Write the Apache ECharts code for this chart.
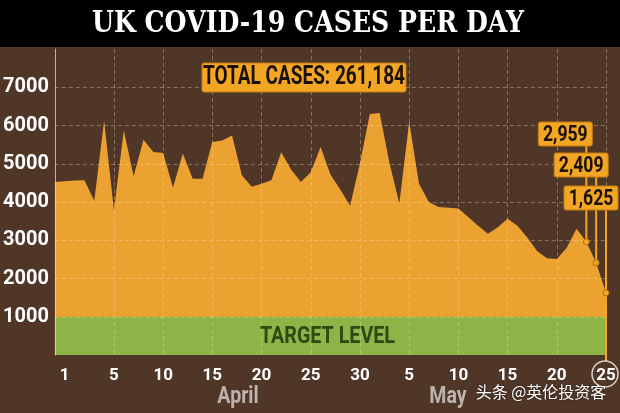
<!DOCTYPE html>
<html><head><meta charset="utf-8">
<script src="https://cdn.jsdelivr.net/npm/echarts@6/dist/echarts.min.js"></script>
<style>html,body{margin:0;padding:0;background:#4f3627}#c{width:620px;height:413px}</style>
</head><body><div id="c"></div>
<script>
// ---- data ----
const categories = ['Mar 30','Mar 31',
 'Apr 1','Apr 2','Apr 3','Apr 4','Apr 5','Apr 6','Apr 7','Apr 8','Apr 9','Apr 10',
 'Apr 11','Apr 12','Apr 13','Apr 14','Apr 15','Apr 16','Apr 17','Apr 18','Apr 19','Apr 20',
 'Apr 21','Apr 22','Apr 23','Apr 24','Apr 25','Apr 26','Apr 27','Apr 28','Apr 29','Apr 30',
 'May 1','May 2','May 3','May 4','May 5','May 6','May 7','May 8','May 9','May 10',
 'May 11','May 12','May 13','May 14','May 15','May 16','May 17','May 18','May 19','May 20',
 'May 21','May 22','May 23','May 24','May 25'];
const cases = [4520,4540,4560,4570,4030,6120,3790,5870,4670,5630,
 5310,5280,4380,5270,4610,4610,5570,5610,5740,4700,
 4400,4480,4570,5300,4850,4520,4780,5440,4720,4330,
 3900,5010,6300,6330,5020,3960,6100,4480,4000,3870,
 3850,3830,3610,3380,3170,3340,3560,3380,3070,2720,
 2530,2510,2800,3300,2959,2409,1625];
const xTickIndex = [1,6,11,16,21,26,31,36,41,46,51,56];
const xTickText  = ['1','5','10','15','20','25','30','5','10','15','20','25'];
const yTicks = [1000,2000,3000,4000,5000,6000,7000];
const targetLevel = 1000;
const targetText = 'TARGET LEVEL';
const totalCases = 261184;
const calloutIndex = [54,55,56];
const monthLabels = ['April','May'];
const titleText = 'UK COVID-19 CASES PER DAY';
const watermark = '头条 @英伦投资客';

// ---- styling ----
const ORANGE = '#eca231', GREEN = '#8db446', BOX = '#f2a624';
const calloutBox = [ {dx:-21, top:122}, {dx:-15, top:153}, {dx:-15, top:186} ];
const FONT = 'Roboto, "Liberation Sans", sans-serif';

const chart = echarts.init(document.getElementById('c'), null, {renderer:'canvas'});
const tickMap = {}; xTickIndex.forEach((k,i)=>tickMap[k]=xTickText[i]);
const calloutData = calloutIndex.map(i => [i, cases[i]]);
const targetBand = categories.map(() => targetLevel);

const option = {
  backgroundColor: '#4f3627',
  animation: false,
  grid: {left: 54, right: 14, top: 49, bottom: 58},
  xAxis: {
    type: 'category', data: categories, boundaryGap: false, z: 6,
    axisLine: {show: false}, axisTick: {show: false},
    axisLabel: {
      interval: (idx) => tickMap[idx] !== undefined,
      formatter: (v, idx) => tickMap[idx] || '',
      color: '#fff', fontFamily: FONT, fontWeight: 'bold', fontSize: 17, margin: 12
    },
    splitLine: {show: true, interval: (idx) => idx >= 6 && (idx - 1) % 5 === 0,
      lineStyle: {color: 'rgba(255,235,205,0.33)', type: [4,3], width: 1}}
  },
  yAxis: {
    type: 'value', min: 0, max: 8000, interval: 1000, z: 6,
    axisLine: {show: true, lineStyle: {color: 'rgba(235,215,195,0.75)', width: 1}},
    axisTick: {show: false},
    axisLabel: {
      formatter: (v) => yTicks.includes(v) ? String(v) : '',
      color: '#fff', fontFamily: FONT, fontWeight: 'bold', fontSize: 20, margin: 6
    },
    splitLine: {show: true, showMaxLine: false, showMinLine: false,
      lineStyle: {color: 'rgba(255,235,205,0.33)', type: [4,3], width: 1}}
  },
  series: [
    {
      type: 'line', data: cases, symbol: 'none', z: 2,
      lineStyle: {width: 0},
      areaStyle: {color: ORANGE, opacity: 1}
    },
    {
      type: 'line', data: targetBand, symbol: 'none', z: 3,
      lineStyle: {width: 0},
      areaStyle: {color: GREEN, opacity: 1}
    },
    {
      type: 'custom', z: 10, data: calloutData,
      renderItem: (params, api) => {
        const i = params.dataIndex;
        const p = api.coord([api.value(0), api.value(1)]);
        const b = calloutBox[i];
        const w = 54, h = 24;
        const cx = p[0] + b.dx;
        const children = [];
        const isLast = i === calloutData.length - 1;
        const base = api.coord([api.value(0), 0])[1];
        const bottomY = isLast ? base + 6 : p[1];
        children.push({type:'line', shape:{x1:p[0], y1:b.top + h, x2:p[0], y2:bottomY},
          style:{stroke: BOX, lineWidth: 2}});
        if (isLast) {
          children.push({type:'circle', shape:{cx:p[0]-1, cy:base + 19, r:13},
            style:{fill:'none', stroke:'rgba(235,225,215,0.9)', lineWidth:1.5}});
        }
        children.push({type:'rect', shape:{x:cx - w/2, y:b.top, width:w, height:h, r:2},
          style:{fill: BOX, stroke:'#c67d12', lineWidth:1}});
        children.push({type:'text', x: cx, y: b.top + h/2 + 1, scaleX: 0.8,
          style:{text: api.value(1).toLocaleString('en-US'), fill:'#1a1005',
            font:'bold 22px ' + FONT, align:'center', verticalAlign:'middle'}});
        children.push({type:'circle', shape:{cx:p[0], cy:p[1], r:3},
          style:{fill: BOX, stroke:'#b8700c', lineWidth:1}});
        return {type:'group', children};
      }
    }
  ],
  graphic: [
    {type:'rect', left:0, top:0, shape:{width:620, height:47}, style:{fill:'#000'}, z:100},
    {type:'text', x:308, y:24, scaleX:0.84, z:101,
      style:{text:titleText, fill:'#fff', font:'bold 30px "DejaVu Serif", serif', align:'center', verticalAlign:'middle'}},
    {type:'rect', x:202, y:63, shape:{width:204, height:29, r:2}, style:{fill:BOX, stroke:'#c67d12', lineWidth:1}, z:50},
    {type:'text', x:304, y:78, scaleX:0.76, z:51,
      style:{text:'TOTAL CASES: ' + totalCases.toLocaleString('en-US'), fill:'#1a1005', font:'bold 25px ' + FONT, align:'center', verticalAlign:'middle'}},
    {type:'text', x:238, y:397, scaleX:0.85, z:51,
      style:{text:monthLabels[0], fill:'#bdb3ad', font:'bold 23px ' + FONT, align:'center', verticalAlign:'middle'}},
    {type:'text', x:448, y:397, scaleX:0.85, z:51,
      style:{text:monthLabels[1], fill:'#bdb3ad', font:'bold 23px ' + FONT, align:'center', verticalAlign:'middle'}},
    {type:'text', x:541, y:392, z:52,
      style:{text:watermark, fill:'#fff', font:'16px "Noto Sans CJK SC", sans-serif', align:'center', verticalAlign:'middle',
        textShadowColor:'rgba(0,0,0,0.6)', textShadowBlur:2}}
  ]
};
chart.setOption(option);

// place the band label at the centre of the target band, via the chart's own scales
const g = chart.getModel().getComponent('grid').coordinateSystem.getRect();
const yMid = chart.convertToPixel({yAxisIndex: 0}, targetLevel / 2);
chart.setOption({graphic: option.graphic.concat([
  {type:'text', x: g.x + g.width / 2 - 3, y: yMid + 1, scaleX: 0.82, z: 20,
    style:{text: targetText, fill:'#2d4a10', font:'bold 24px ' + FONT, align:'center', verticalAlign:'middle'}}
])});
</script></body></html>
